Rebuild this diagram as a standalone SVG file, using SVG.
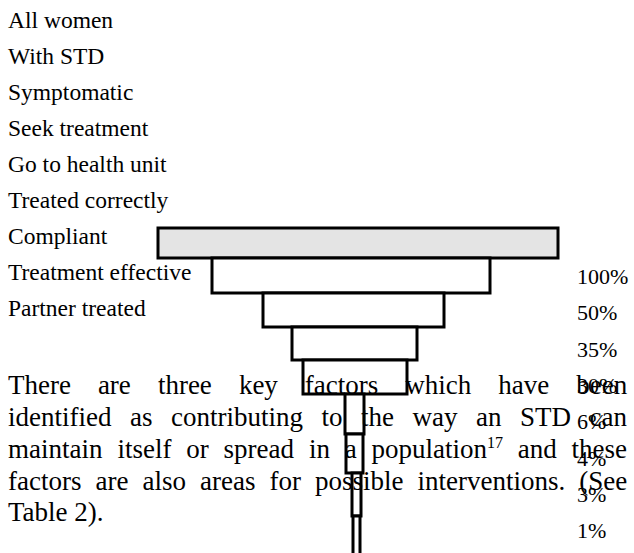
<svg xmlns="http://www.w3.org/2000/svg" width="634" height="553" viewBox="0 0 634 553">
<style>
  text { font-family: 'Liberation Serif', 'DejaVu Serif', serif; fill: #000; }
  .lbl { font-size: 23.5px; }
  .pct { font-size: 22px; }
  .par { font-size: 27px; }
  .sup { font-size: 16px; }
  .box { fill: #fff; stroke: #000; stroke-width: 3; }
  .top { fill: #e4e4e4; stroke: #000; stroke-width: 3; }
</style>
<rect width="634" height="553" fill="#fff"/>
<g id="labels">
  <text class="lbl" x="8" y="28">All women</text>
  <text class="lbl" x="8" y="64">With STD</text>
  <text class="lbl" x="8" y="100">Symptomatic</text>
  <text class="lbl" x="8" y="136">Seek treatment</text>
  <text class="lbl" x="8" y="172">Go to health unit</text>
  <text class="lbl" x="8" y="208">Treated correctly</text>
  <text class="lbl" x="8" y="244">Compliant</text>
  <text class="lbl" x="8" y="280">Treatment effective</text>
  <text class="lbl" x="8" y="316">Partner treated</text>
</g>
<g id="funnel">
  <g id="bar1"><rect class="top" x="158" y="228" width="400" height="30"/></g>
  <g id="bar2"><rect class="box" x="212" y="258" width="278" height="35"/></g>
  <g id="bar3"><rect class="box" x="263" y="293" width="181" height="34"/></g>
  <g id="bar4"><rect class="box" x="292" y="327" width="125" height="33"/></g>
  <g id="bar5"><rect class="box" x="303" y="360" width="104" height="34"/></g>
  <g id="bar6"><rect class="box" x="345" y="394" width="19" height="40"/></g>
  <g id="bar7"><rect class="box" x="346" y="434" width="17" height="39"/></g>
  <g id="bar8"><rect class="box" x="352" y="473" width="9" height="43"/></g>
  <g id="bar9"><rect class="box" x="353" y="516" width="7" height="45"/></g>
</g>
<g id="percentages">
  <text class="pct" x="577" y="284">100%</text>
  <text class="pct" x="577" y="320">50%</text>
  <text class="pct" x="577" y="357">35%</text>
  <text class="pct" x="577" y="393">30%</text>
  <text class="pct" x="577" y="429">6%</text>
  <text class="pct" x="577" y="466">4%</text>
  <text class="pct" x="577" y="502">3%</text>
  <text class="pct" x="577" y="538">1%</text>
</g>
<g id="paragraph">
  <text class="par" y="394"><tspan x="8">There</tspan><tspan x="97.9">are</tspan><tspan x="157.9">three</tspan><tspan x="238.9">key</tspan><tspan x="304.8">factors</tspan><tspan x="405.3">which</tspan><tspan x="498.2">have</tspan><tspan x="576.2">been</tspan></text>
  <text class="par" y="426"><tspan x="8">identified</tspan><tspan x="130">as</tspan><tspan x="171">contributing</tspan><tspan x="321.5">to</tspan><tspan x="361">the</tspan><tspan x="412.5">way</tspan><tspan x="476">an</tspan><tspan x="520">STD</tspan><tspan x="589.5">can</tspan></text>
  <text class="par" y="458"><tspan x="8">maintain</tspan><tspan x="117.4">itself</tspan><tspan x="186.2">or</tspan><tspan x="223.6">spread</tspan><tspan x="308.9">in</tspan><tspan x="344.8">a</tspan><tspan x="371.6">population</tspan><tspan class="sup" dy="-10">17</tspan><tspan x="517.7" dy="10">and</tspan><tspan x="571.5">these</tspan></text>
  <text class="par" y="490"><tspan x="8">factors</tspan><tspan x="95.5">are</tspan><tspan x="142.5">also</tspan><tspan x="200">areas</tspan><tspan x="269.5">for</tspan><tspan x="315">possible</tspan><tspan x="417.5">interventions.</tspan><tspan x="579.2">(See</tspan></text>
  <text class="par" x="8" y="521">Table 2).</text>
</g>
</svg>
